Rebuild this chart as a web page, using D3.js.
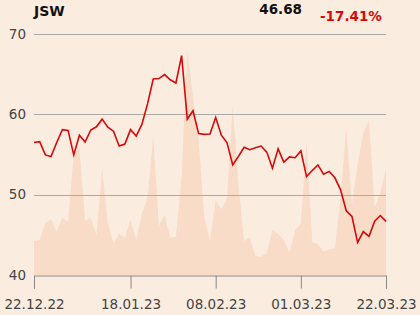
<!DOCTYPE html>
<html>
<head>
<meta charset="utf-8">
<script src="https://cdn.jsdelivr.net/npm/d3@7"></script>
<style>
  body { margin: 0; background: #fbece0; }
  svg { display: block; font-family: "DejaVu Sans", sans-serif; }
</style>
</head>
<body>
<div id="chart"></div>
<script>
// chart size
const width = 420;
const height = 315;
const margin = {left: 34, right: 34, top: 34, bottom: 40};

// trading sessions 22.12.22 - 22.03.23
const dates = [
  "22.12.22","23.12.22","27.12.22","28.12.22","29.12.22","30.12.22",
  "02.01.23","03.01.23","04.01.23","05.01.23","09.01.23","10.01.23","11.01.23","12.01.23","13.01.23",
  "16.01.23","17.01.23","18.01.23","19.01.23","20.01.23","23.01.23","24.01.23","25.01.23","26.01.23",
  "27.01.23","30.01.23","31.01.23",
  "01.02.23","02.02.23","03.02.23","06.02.23","07.02.23","08.02.23","09.02.23","10.02.23","13.02.23",
  "14.02.23","15.02.23","16.02.23","17.02.23","20.02.23","21.02.23","22.02.23","23.02.23","24.02.23",
  "27.02.23","28.02.23",
  "01.03.23","02.03.23","03.03.23","06.03.23","07.03.23","08.03.23","09.03.23","10.03.23","13.03.23",
  "14.03.23","15.03.23","16.03.23","17.03.23","20.03.23","21.03.23","22.03.23"
];

// closing price
const prices = [
  56.5, 56.6, 54.95, 54.75, 56.5, 58.1, 58.0, 54.95, 57.4, 56.55,
  58.05, 58.45, 59.4, 58.4, 57.9, 56.05, 56.3, 58.1, 57.3, 58.75,
  61.3, 64.4, 64.45, 64.95, 64.3, 63.9, 67.3, 59.4, 60.45, 57.6,
  57.5, 57.55, 59.6, 57.4, 56.45, 53.7, 54.75, 55.9, 55.6, 55.85,
  56.05, 55.3, 53.3, 55.7, 54.05, 54.7, 54.6, 55.45, 52.25, 53.0,
  53.7, 52.55, 52.9, 52.1, 50.6, 48.0, 47.3, 44.05, 45.4, 44.8,
  46.7, 47.4, 46.68
];

// volume (thousand shares, estimated)
const volumes = [
  340, 347, 523, 557, 433, 573, 530, 1213, 1267, 537,
  573, 400, 1057, 523, 317, 413, 373, 550, 347, 613,
  773, 1383, 490, 603, 373, 383, 990, 2240, 1790, 1340,
  573, 340, 750, 657, 773, 1690, 907, 340, 373, 190,
  180, 223, 447, 413, 347, 223, 447, 513, 1333, 330,
  307, 233, 257, 267, 773, 1473, 707, 1107, 1423, 1550,
  673, 823, 1057
];

const yTicks = [40, 50, 60, 70];
const xTickLabels = ["22.12.22", "18.01.23", "08.02.23", "01.03.23", "22.03.23"];

const ticker = "JSW";
const lastPrice = "46.68";
const change = "-17.41%";

const svg = d3.select("#chart")
  .append("svg")
  .attr("width", width)
  .attr("height", height);

svg.append("rect")
  .attr("width", width)
  .attr("height", height)
  .attr("fill", "#fbece0");

// scales
const x = d3.scalePoint()
  .domain(d3.range(prices.length))
  .range([margin.left, width - margin.right]);

const y = d3.scaleLinear()
  .domain([40, 70])
  .range([height - margin.bottom, margin.top]);

const yVol = d3.scaleLinear()
  .domain([0, 2400])
  .range([height - margin.bottom, margin.top + 1]);

// volume area in background
const area = d3.area()
  .x((d, i) => x(i))
  .y0(yVol(0))
  .y1(d => yVol(d));

svg.append("path")
  .datum(volumes)
  .attr("d", area)
  .attr("fill", "#f8dcc7");

// grid lines
svg.append("g")
  .selectAll("line")
  .data(yTicks.filter(d => d > 40))
  .enter()
  .append("line")
  .attr("x1", margin.left)
  .attr("x2", width - margin.right)
  .attr("y1", d => Math.round(y(d)) + 0.5)
  .attr("y2", d => Math.round(y(d)) + 0.5)
  .attr("stroke", "#aaa")
  .attr("stroke-width", 1);

// y labels
svg.append("g")
  .selectAll("text")
  .data(yTicks)
  .enter()
  .append("text")
  .attr("x", 26)
  .attr("y", d => y(d))
  .attr("dy", "0.35em")
  .attr("text-anchor", "end")
  .attr("font-size", "13.5px")
  .attr("fill", "#444")
  .text(d => d);

// x axis
const xAxis = svg.append("g")
  .attr("transform", `translate(0,${Math.round(y(40)) + 0.5})`)
  .call(d3.axisBottom(x)
    .tickValues([0, 17, 32, 47, 62])
    .tickFormat((d, i) => xTickLabels[i])
    .tickSize(13)
    .tickPadding(11));

xAxis.select(".domain").attr("stroke", "#888");
xAxis.selectAll(".tick line").attr("stroke", "#888");
xAxis.selectAll(".tick text")
  .attr("font-family", "DejaVu Sans")
  .attr("font-size", "13.5px")
  .attr("fill", "#444");

// price line
const line = d3.line()
  .x((d, i) => x(i))
  .y(d => y(d));

svg.append("path")
  .datum(prices)
  .attr("d", line)
  .attr("fill", "none")
  .attr("stroke", "#d40a0a")
  .attr("stroke-width", 1.6)
  .attr("stroke-linejoin", "miter");

// header
svg.append("text")
  .attr("x", 34)
  .attr("y", 15.5)
  .attr("font-size", "14px")
  .attr("font-weight", "bold")
  .attr("fill", "#111")
  .text(ticker);

svg.append("text")
  .attr("x", 302)
  .attr("y", 14)
  .attr("text-anchor", "end")
  .attr("font-size", "13.5px")
  .attr("font-weight", "bold")
  .attr("fill", "#111")
  .text(lastPrice);

svg.append("text")
  .attr("x", 320)
  .attr("y", 20.5)
  .attr("font-size", "13.5px")
  .attr("font-weight", "bold")
  .attr("fill", "#d40a0a")
  .text(change);
</script>
</body>
</html>
